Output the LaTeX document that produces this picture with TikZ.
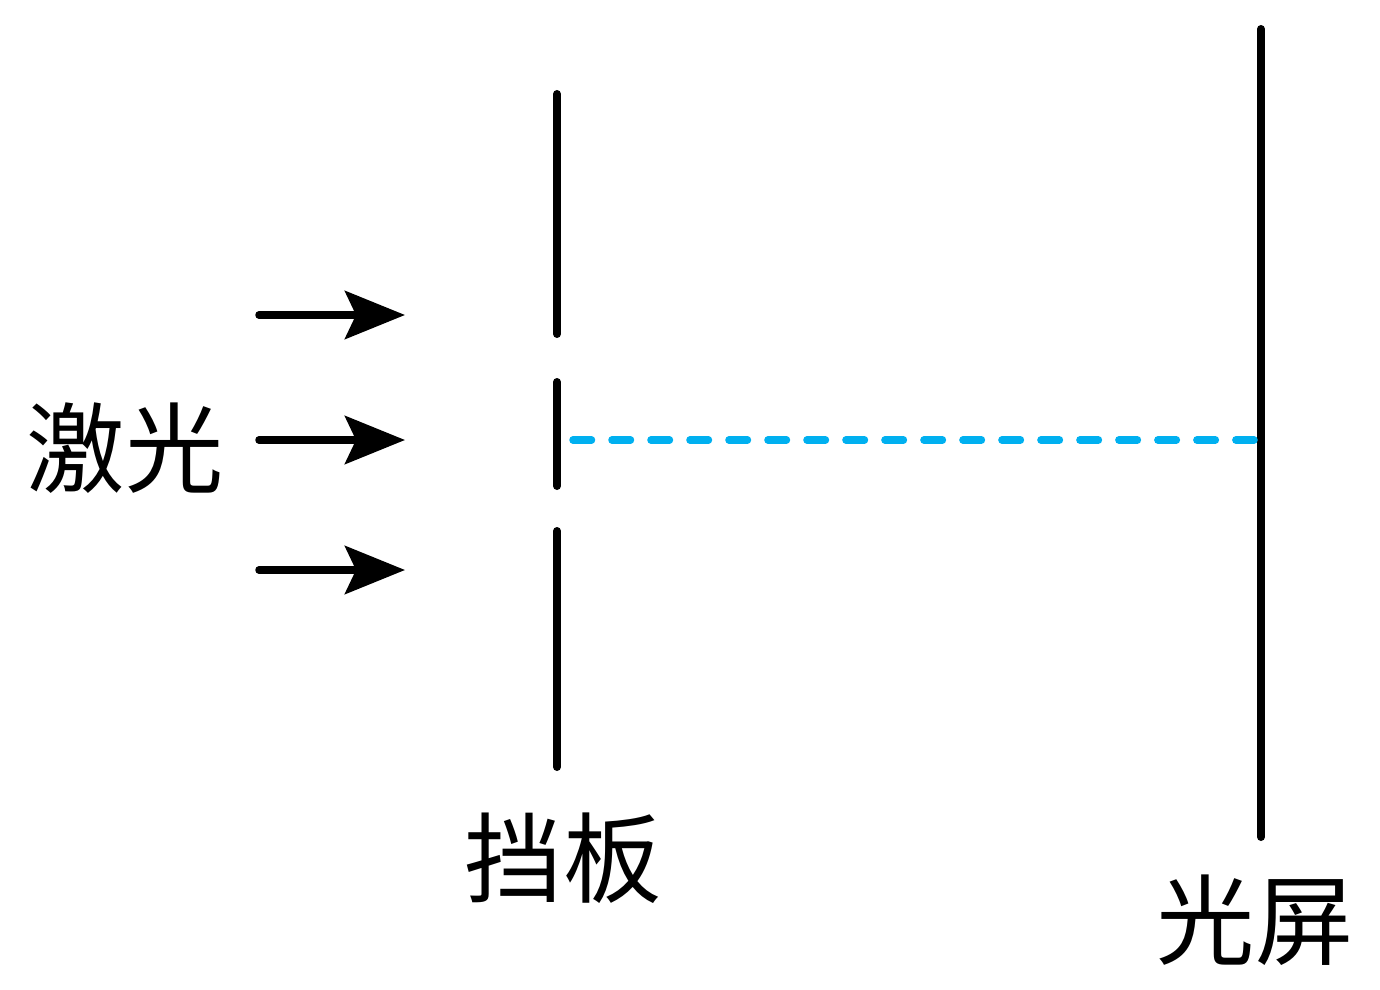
\documentclass[tikz,border=0pt]{standalone}
\usepackage{fontspec}
\newfontfamily\cjk{Noto Sans CJK SC}
\usetikzlibrary{arrows.meta}

\begin{document}
\begin{tikzpicture}[x=0.02cm,y=-0.02cm,line cap=round,
                   wall/.style={line width=0.16cm},
                   beam/.style={line width=0.15cm,-{Stealth[length=1.2cm,width=0.96cm,inset=0.22cm]}},
                   axis/.style={line width=0.15cm,color=cyanline,dash pattern=on 0.37cm off 0.41cm},
                   label/.style={font=\cjk\fontsize{56}{60}\selectfont,inner sep=0pt}]
\definecolor{cyanline}{HTML}{00B0F0}
\useasboundingbox (0,0) rectangle (1380,990);
% barrier with two slits
\coordinate (b1) at (557,94);  \coordinate (b2) at (557,334);
\coordinate (b3) at (557,382); \coordinate (b4) at (557,486);
\coordinate (b5) at (557,531); \coordinate (b6) at (557,767);
\draw[wall] (b1) -- (b2);
\draw[wall] (b3) -- (b4);
\draw[wall] (b5) -- (b6);
% screen
\coordinate (s1) at (1261,29); \coordinate (s2) at (1261,837);
\draw[wall] (s1) -- (s2);
% laser
\foreach \y/\n in {315/a,440/b,570/c}{
  \coordinate (l\n) at (259,\y);
  \coordinate (r\n) at (405,\y);
  \draw[beam] (l\n) -- (r\n);
}
\coordinate (c1) at (573,440); \coordinate (c2) at (1254,440);
\draw[axis] (c1) -- (c2);
\node[label] (laser) at (125,448) {激光};
\node[label] (plate) at (563,858) {挡板};
\node[label] (screen) at (1255,920) {光屏};
\end{tikzpicture}
\end{document}
